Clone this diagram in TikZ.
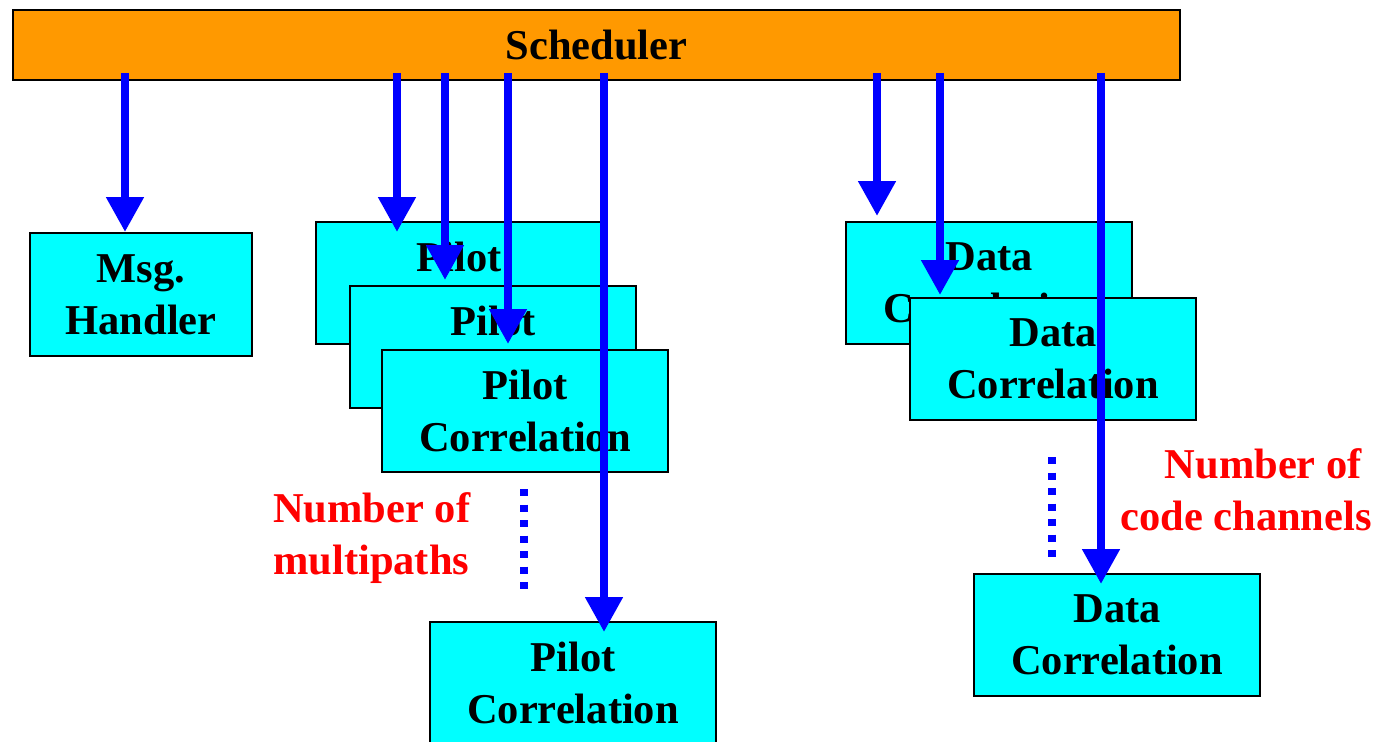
\documentclass[tikz,border=0pt]{standalone}
\usepackage{fontspec}
\setmainfont{Liberation Serif}
\usetikzlibrary{arrows.meta}
\definecolor{schedorange}{RGB}{255,153,0}
\definecolor{boxcyan}{RGB}{0,255,255}
\definecolor{arrblue}{RGB}{0,0,255}
\definecolor{lblred}{RGB}{255,0,0}
\begin{document}
\begin{tikzpicture}[x=1pt,y=-1pt,
  bigfont/.style={font=\fontsize{42.5}{52}\selectfont\bfseries},
  box/.style={draw=black, line width=2pt, fill=boxcyan, minimum width=286pt,
    minimum height=122pt, inner sep=0pt, align=center, bigfont,
    execute at begin node={\vspace*{5pt}}},
  sched/.style={draw=black, line width=2pt, fill=schedorange, minimum width=1167pt,
    minimum height=70pt, inner sep=0pt, bigfont},
  arr/.style={draw=arrblue, line width=8pt, -{Triangle[width=36pt,length=35pt]}, arrblue},
  dots/.style={draw=arrblue, line width=8pt, dash pattern=on 7pt off 8.5pt},
  note/.style={text=lblred, bigfont, inner sep=0pt}]
\useasboundingbox (0,0) rectangle (1380,741);

% scheduler bar
\node[sched] (sched) at (596.5,45) {\raisebox{-2pt}{Scheduler}};

% message handler
\node[box, minimum width=222pt, minimum height=123pt] (msg) at (141,294.5) {Msg.\\Handler};

% pilot correlators
\node[box] (p1) at (459,283) {Pilot\\Correlation};
\node[box] (p2) at (493,347) {Pilot\\Correlation};
\node[box] (p3) at (525,411) {Pilot\\Correlation};
\node[box] (p4) at (573,683) {Pilot\\Correlation};

% data correlators
\node[box] (d1) at (989,283) {Data\\Correlation};
\node[box] (d2) at (1053,359) {Data\\Correlation};
\node[box] (d3) at (1117,635) {Data\\Correlation};

% arrow start / end points
\coordinate (s1) at (125,73);
\coordinate (s2) at (397,73);  \coordinate (t2) at (397,232);
\coordinate (s3) at (445,73);  \coordinate (t3) at (445,280);
\coordinate (s4) at (508,73);  \coordinate (t4) at (508,344);
\coordinate (s5) at (604,73);  \coordinate (t5) at (604,632);
\coordinate (s6) at (877,73);  \coordinate (t6) at (877,216);
\coordinate (s7) at (940,73);  \coordinate (t7) at (940,295);
\coordinate (s8) at (1101,73); \coordinate (t8) at (1101,584);

\draw[arr] (s1) -- (s1 |- msg.north);
\draw[arr] (s2) -- (t2);
\draw[arr] (s3) -- (t3);
\draw[arr] (s4) -- (t4);
\draw[arr] (s5) -- (t5);
\draw[arr] (s6) -- (t6);
\draw[arr] (s7) -- (t7);
\draw[arr] (s8) -- (t8);

% dotted continuation marks
\coordinate (pd1) at (524,489); \coordinate (pd2) at (524,593);
\coordinate (dd1) at (1052,457); \coordinate (dd2) at (1052,561);
\draw[dots] (pd1) -- (pd2);
\draw[dots] (dd1) -- (dd2);

% red labels
\node[note, anchor=west, align=left] (lblm) at (273,538) {Number of\\multipaths};
\node[note, anchor=east, align=right] (lblc) at (1372,490) {Number of\hspace*{10pt}\\code channels};
\end{tikzpicture}
\end{document}
